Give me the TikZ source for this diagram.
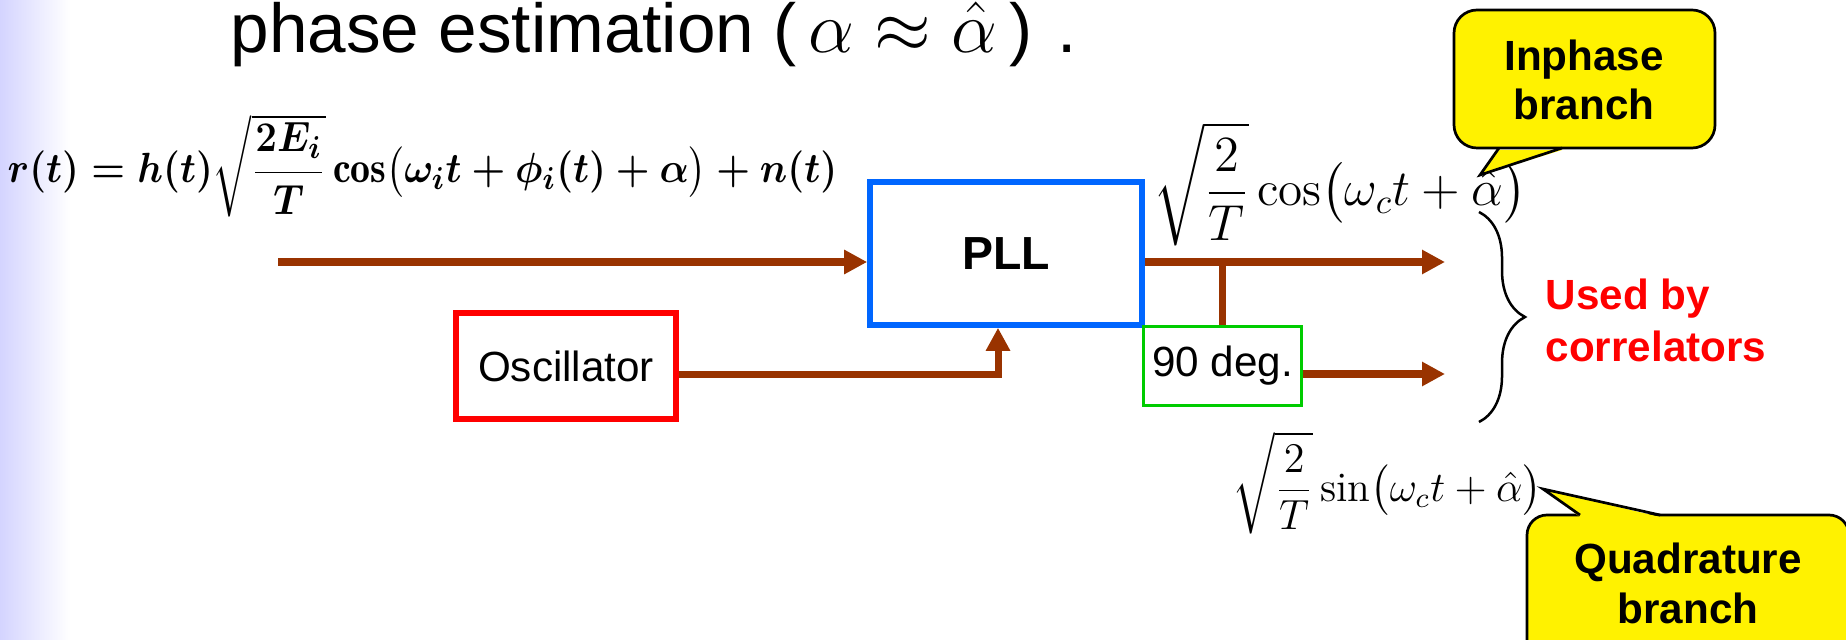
\documentclass[tikz,border=0pt]{standalone}
\usepackage{amsmath}
\usepackage{graphicx}
\usepackage{fontspec}
\newfontfamily\arial{Liberation Sans}
\usetikzlibrary{arrows.meta,decorations.pathreplacing}

\definecolor{sigbrown}{RGB}{153,51,0}
\definecolor{pllblue}{RGB}{0,102,255}
\definecolor{shiftgreen}{RGB}{0,204,0}
\definecolor{slidelav}{RGB}{212,212,255}

\tikzset{
  sig/.style={sigbrown, line width=0.07cm, -{Triangle[length=0.23cm,width=0.23cm]}},
  wire/.style={sigbrown, line width=0.07cm},
  block/.style={draw, fill=white, inner sep=0pt, font=\arial\fontsize{12}{14}\selectfont},
  bubble/.style={draw=black, line width=0.027cm, fill=yellow},
  bubbletext/.style={font=\arial\bfseries\fontsize{12}{14.2}\selectfont, align=center, inner sep=0pt},
  formula/.style={inner sep=0pt, anchor=base west}
}

\begin{document}
\begin{tikzpicture}[x=0.01cm, y=-0.01cm]
  \useasboundingbox (0,0) rectangle (1846,640);
  \clip (0,0) rectangle (1846,640);
  % slide edge
  \shade[left color=slidelav, right color=white] (0,0) rectangle (70,640);

  \node[anchor=base west, inner sep=0pt, font=\arial\fontsize{19.7}{23}\selectfont] (title) at (230,53) {phase estimation (\,$\alpha \approx \hat{\alpha}$\hspace{0.12cm})\hspace{0.25cm}.};

  % received signal
  \node[formula, font=\fontsize{12.4}{15}\selectfont\boldmath] (rt) at (7,183) {\scalebox{0.914}[1]{$r(t) = h(t)\sqrt{\dfrac{2E_i}{T}}\cos\bigl(\omega_i t + \phi_i(t) + \alpha\bigr) + n(t)$}};

  % blocks
  \node[block, draw=pllblue, line width=0.055cm, minimum width=2.72cm, minimum height=1.43cm, font=\arial\bfseries\fontsize{13.2}{15}\selectfont] (pll) at (1006,253.5) {PLL};
  \node[block, draw=red, line width=0.055cm, minimum width=2.2cm, minimum height=1.06cm] (osc) at (566,366) {Oscillator};
  \node[block, draw=shiftgreen, line width=0.03cm, minimum width=1.57cm, minimum height=0.78cm] (shift) at (1222.5,366) {90 deg.};

  \coordinate (in) at (278,262);
  \coordinate (iout) at (1445,262);
  \coordinate (qout) at (1445,374);

  % signal paths
  \draw[sig] (in) -- (in -| pll.west);
  \draw[sig] ([yshift=-0.08cm]osc.east) -| ([xshift=-0.08cm]pll.south);
  \draw[sig] (pll.east |- in) -- (iout);
  \draw[wire] (shift.north |- in) -- (shift.north);
  \draw[sig] (shift.east |- qout) -- (qout);

  % outputs
  \draw[line width=0.025cm, decorate, decoration={brace, amplitude=0.46cm}] (1479,212) -- (1479,422);
  \node[anchor=base west, inner sep=0pt, text=red, align=left, font=\arial\bfseries\fontsize{12}{14.8}\selectfont] (used) at (1545,362) {Used by\\correlators};

  \node[formula, font=\fontsize{14}{16}\selectfont] (cosl) at (1153,206) {$\displaystyle\sqrt{\frac{2}{T}}\cos\bigl(\omega_c t + \hat{\alpha}\bigr)$};
  \node[formula, font=\fontsize{11.9}{14}\selectfont] (sinl) at (1232,501) {$\displaystyle\sqrt{\frac{2}{T}}\sin\bigl(\omega_c t + \hat{\alpha}\bigr)$};

  % callouts
  \draw[bubble, rounded corners=0.23cm] (1454,10) rectangle (1715,148);
  \fill[yellow] (1499,150) -- (1480,175) -- (1562,150) -- cycle;
  \draw[line width=0.027cm] (1499,148) -- (1480,175) -- (1562,148);
  \node[bubbletext, anchor=base] (inph) at (1584,120) {Inphase\\branch};

  \draw[bubble, rounded corners=0.2cm] (1527,515) rectangle (1849,670);
  \fill[yellow] (1580,517) -- (1543,489) -- (1660,517) -- cycle;
  \draw[line width=0.027cm] (1580,515) -- (1543,489) -- (1660,515);
  \node[bubbletext, anchor=base] (quad) at (1688,623) {Quadrature\\branch};
\end{tikzpicture}
\end{document}
